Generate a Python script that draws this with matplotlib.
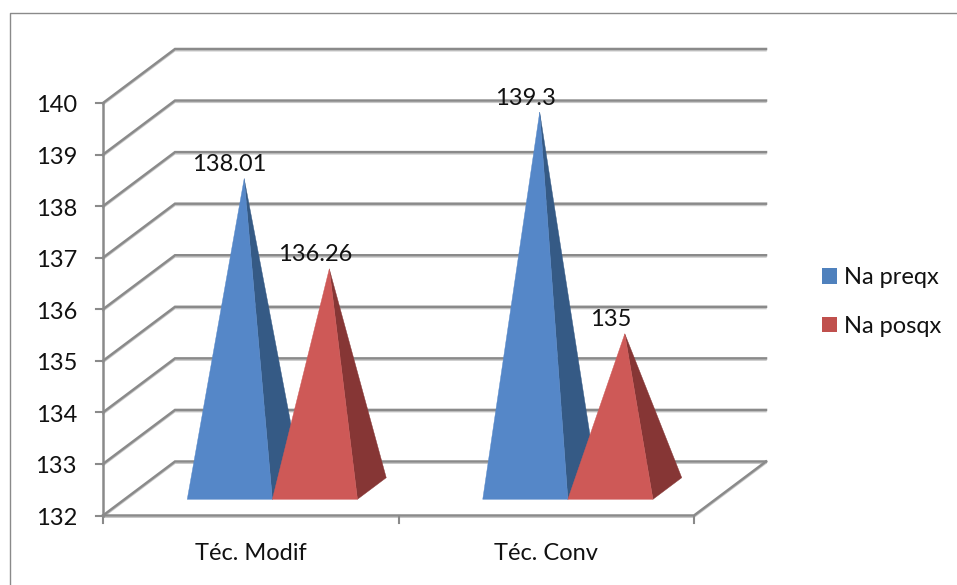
import matplotlib
matplotlib.use('Agg')
import matplotlib.pyplot as plt
from matplotlib.patches import Patch, Polygon

# Data
categories = ['Téc. Modif', 'Téc. Conv']
series_names = ['Na preqx', 'Na posqx']
preqx = [138.01, 139.3]
posqx = [136.26, 135]
value_ticks = [132, 133, 134, 135, 136, 137, 138, 139, 140]

front_colors = ['#5587C8', '#CE5957']
side_colors = ['#355A85', '#863635']
legend_colors = ['#4F81BD', '#C0504D']
grid_color = '#8A8A8A'
shadow_color = '#C8C8C8'
text_color = '#111111'

plt.rcParams['font.family'] = ['Lato', 'DejaVu Sans']
FS = 17

# Oblique projection of the 3d chart box, the axes work in pixels
X0, X1 = 103, 694
Y0, Y1 = 515.5, 103
DX, DY = 72, -54
BAR_W = 0.288
DEPTH_FRONT, DEPTH_BACK = 0.3, 0.7


def project(cat, val, depth=0.0):
    x = X0 + cat * (X1 - X0) / len(categories) + depth * DX
    y = Y0 + (val - value_ticks[0]) * (Y1 - Y0) / (value_ticks[-1] - value_ticks[0]) + depth * DY
    return x, y


def grid_line(pts):
    # dark line with the soft shadow under it
    xs, ys = zip(*pts)
    ax.plot(xs, [y + 1.8 for y in ys], color=shadow_color, lw=1.0, solid_joinstyle='miter', zorder=1.5)
    ax.plot(xs, ys, color=grid_color, lw=1.8, solid_joinstyle='miter', zorder=2)


fig = plt.figure(figsize=(9.57, 5.85), dpi=100)
ax = fig.add_axes([0, 0, 1, 1])
ax.set_xlim(0, 957)
ax.set_ylim(585, 0)
ax.axis('off')

# Outer chart frame, cut off by the image on the right and bottom
ax.plot([10, 10, 957], [585, 13, 13], color=grid_color, lw=1.0, zorder=1)

# Walls and gridlines
n_cat = len(categories)
for v in value_ticks:
    grid_line([project(0, v), project(0, v, 1), project(n_cat, v, 1)])
    tx, ty = project(0, v)
    ax.plot([tx - 7, tx], [ty, ty], color=grid_color, lw=1.5, zorder=2)
    ax.text(77, ty + 3, str(v), ha='right', va='center', fontsize=FS, color=text_color)

ax.plot(*zip(project(0, value_ticks[0]), project(0, value_ticks[-1])), color=grid_color, lw=1.8, zorder=2)

# Floor edges
grid_line([project(0, value_ticks[0]), project(n_cat, value_ticks[0]), project(n_cat, value_ticks[0], 1)])
for c in range(n_cat + 1):
    tx, ty = project(c, value_ticks[0])
    ax.plot([tx, tx], [ty, ty + 7], color=grid_color, lw=1.5, zorder=2)
for c, name in enumerate(categories):
    tx, ty = project(c + 0.5, value_ticks[0])
    ax.text(tx, 553, name, ha='center', va='center', fontsize=FS, color=text_color)

# Pyramids
z = 3
for c in range(n_cat):
    for s, vals in enumerate([preqx, posqx]):
        left = c + 0.5 - BAR_W + s * BAR_W
        right = left + BAR_W
        base = value_ticks[0]
        apex = project((left + right) / 2, vals[c], (DEPTH_FRONT + DEPTH_BACK) / 2)
        fl = project(left, base, DEPTH_FRONT)
        fr = project(right, base, DEPTH_FRONT)
        br = project(right, base, DEPTH_BACK)
        ax.add_patch(Polygon([apex, fr, br], closed=True, fc=side_colors[s], ec=side_colors[s], lw=0.3, zorder=z))
        ax.add_patch(Polygon([apex, fl, fr], closed=True, fc=front_colors[s], ec=front_colors[s], lw=0.3, zorder=z))
        ax.annotate(str(vals[c]), apex, xytext=(-14.5 * 0.72, 14 * 0.72), textcoords='offset points',
                    ha='center', va='center', fontsize=FS, color=text_color, zorder=20)
        z += 1

# Legend
handles = [Patch(fc=legend_colors[i], ec='none', label=series_names[i]) for i in range(2)]
ax.legend(handles=handles, loc='center left', bbox_to_anchor=(822, 302), bbox_transform=ax.transData,
          frameon=False, fontsize=FS, handlelength=0.635, handleheight=0.635, handletextpad=0.3,
          labelspacing=1.15, borderpad=0, borderaxespad=0, labelcolor=text_color)

fig.savefig('out.png', dpi=100)
